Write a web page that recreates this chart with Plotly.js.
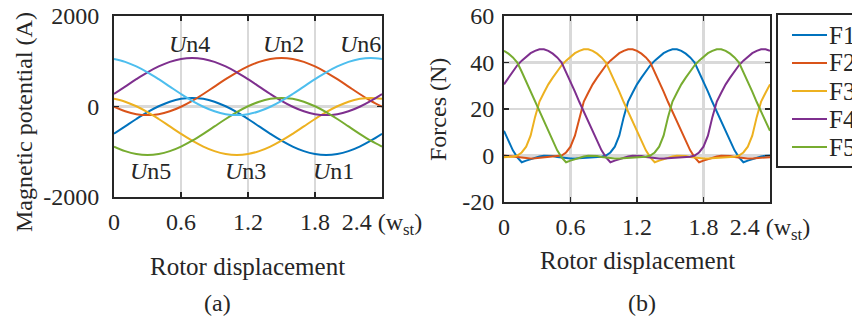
<!DOCTYPE html>
<html>
<head>
<meta charset="utf-8">
<script src="https://cdn.plot.ly/plotly-3.0.1.min.js"></script>
<style>
html,body{margin:0;padding:0;background:#fff;}
#chart{width:852px;height:324px;}
</style>
</head>
<body>
<div id="chart"></div>
<script>
// ---------- Data: (a) magnetic potential ----------
const xPot = [0,0.1,0.2,0.3,0.4,0.5,0.6,0.7,0.8,0.9,1.0,1.1,1.2,1.3,1.4,1.5,1.6,1.7,1.8,1.9,2.0,2.1,2.2,2.3,2.4];
const Un1 = [-603,-440,-277,-125,5,106,169,190,169,106,5,-125,-277,-440,-603,-755,-885,-986,-1049,-1070,-1049,-986,-885,-755,-603];
const Un2 = [-5,-106,-169,-190,-169,-106,-5,125,277,440,603,755,885,986,1049,1070,1049,986,885,755,603,440,277,125,-5];
const Un3 = [169,106,5,-125,-277,-440,-603,-755,-885,-986,-1049,-1070,-1049,-986,-885,-755,-603,-440,-277,-125,5,106,169,190,169];
const Un4 = [277,440,603,755,885,986,1049,1070,1049,986,885,755,603,440,277,125,-5,-106,-169,-190,-169,-106,-5,125,277];
const Un5 = [-885,-986,-1049,-1070,-1049,-986,-885,-755,-603,-440,-277,-125,5,106,169,190,169,106,5,-125,-277,-440,-603,-755,-885];
const Un6 = [1049,986,885,755,603,440,277,125,-5,-106,-169,-190,-169,-106,-5,125,277,440,603,755,885,986,1049,1070,1049];

// ---------- Data: (b) forces ----------
const xF = [0,0.04,0.08,0.12,0.16,0.2,0.24,0.28,0.32,0.36,0.4,0.44,0.48,0.52,0.56,0.6,0.64,0.68,0.72,0.76,
  0.8,0.84,0.88,0.92,0.96,1.0,1.04,1.08,1.12,1.16,1.2,1.24,1.28,1.32,1.36,1.4,1.44,1.48,1.52,1.56,
  1.6,1.64,1.68,1.72,1.76,1.8,1.84,1.88,1.92,1.96,2.0,2.04,2.08,2.12,2.16,2.2,2.24,2.28,2.32,2.36,2.4];
const F1 = [10.6,6.4,2.2,-0.8,
  -2.9,-2.2,-1.5,-0.9,-0.4,-0.1,0.0,-0.2,-0.6,-0.9,
  -1.1,-1.3,-1.3,-1.2,-1.0,-0.8,-0.7,-0.6,-0.5,0.0,
  1.3,3.8,8.5,16.5,23.2,27.0,30.6,33.5,36.2,38.8,
  40.8,42.6,44.0,45.0,45.7,45.7,45.0,43.8,42.2,40.0,
  36.0,31.8,27.5,23.0,18.8,14.6,10.6,6.4,2.2,-0.8,
  -2.9,-2.2,-1.5,-0.9,-0.4,-0.1,0.0];
const F2 = [0.0,-0.2,-0.6,-0.9,
  -1.1,-1.3,-1.3,-1.2,-1.0,-0.8,-0.7,-0.6,-0.5,0.0,
  1.3,3.8,8.5,16.5,23.2,27.0,30.6,33.5,36.2,38.8,
  40.8,42.6,44.0,45.0,45.7,45.7,45.0,43.8,42.2,40.0,
  36.0,31.8,27.5,23.0,18.8,14.6,10.6,6.4,2.2,-0.8,
  -2.9,-2.2,-1.5,-0.9,-0.4,-0.1,0.0,-0.2,-0.6,-0.9,
  -1.1,-1.3,-1.3,-1.2,-1.0,-0.8,-0.7];
const F3 = [-0.7,-0.6,-0.5,0.0,
  1.3,3.8,8.5,16.5,23.2,27.0,30.6,33.5,36.2,38.8,
  40.8,42.6,44.0,45.0,45.7,45.7,45.0,43.8,42.2,40.0,
  36.0,31.8,27.5,23.0,18.8,14.6,10.6,6.4,2.2,-0.8,
  -2.9,-2.2,-1.5,-0.9,-0.4,-0.1,0.0,-0.2,-0.6,-0.9,
  -1.1,-1.3,-1.3,-1.2,-1.0,-0.8,-0.7,-0.6,-0.5,0.0,
  1.3,3.8,8.5,16.5,23.2,27.0,30.6];
const F4 = [30.6,33.5,36.2,38.8,
  40.8,42.6,44.0,45.0,45.7,45.7,45.0,43.8,42.2,40.0,
  36.0,31.8,27.5,23.0,18.8,14.6,10.6,6.4,2.2,-0.8,
  -2.9,-2.2,-1.5,-0.9,-0.4,-0.1,0.0,-0.2,-0.6,-0.9,
  -1.1,-1.3,-1.3,-1.2,-1.0,-0.8,-0.7,-0.6,-0.5,0.0,
  1.3,3.8,8.5,16.5,23.2,27.0,30.6,33.5,36.2,38.8,
  40.8,42.6,44.0,45.0,45.7,45.7,45.0];
const F5 = [45.0,43.8,42.2,40.0,
  36.0,31.8,27.5,23.0,18.8,14.6,10.6,6.4,2.2,-0.8,
  -2.9,-2.2,-1.5,-0.9,-0.4,-0.1,0.0,-0.2,-0.6,-0.9,
  -1.1,-1.3,-1.3,-1.2,-1.0,-0.8,-0.7,-0.6,-0.5,0.0,
  1.3,3.8,8.5,16.5,23.2,27.0,30.6,33.5,36.2,38.8,
  40.8,42.6,44.0,45.0,45.7,45.7,45.0,43.8,42.2,40.0,
  36.0,31.8,27.5,23.0,18.8,14.6,10.6];

// ---------- Tick labels / names ----------
const xTickVals = [0,0.6,1.2,1.8,2.4];
const xTickText = ['0','0.6','1.2','1.8','2.4 (w<sub>st</sub>)'];
const yPotTickVals = [-2000,0,2000];
const yPotTickText = ['-2000','0','2000'];
const yFTickVals = [-20,0,20,40,60];
const yFTickText = ['-20','0','20','40','60'];
const potNames = ['<i>U</i>n1','<i>U</i>n2','<i>U</i>n3','<i>U</i>n4','<i>U</i>n5','<i>U</i>n6'];
const forceNames = ['F1','F2','F3','F4','F5'];

// ---------- Styling ----------
const FONT = "'Liberation Serif', 'Times New Roman', serif";
const INK = '#262626';
const C = ['#0072BD','#D95319','#EDB120','#7E2F8E','#77AC30','#4DBEEE'];
const W = 852, H = 324;
const px = v => v / W;
const py = v => 1 - v / H;
const tf = (s) => ({family:FONT, size:s||24, color:INK});

const traces = [];
[Un1,Un2,Un3,Un4,Un5,Un6].forEach((ys,i) => {
  traces.push({x:xPot, y:ys, type:'scatter', mode:'lines', xaxis:'x', yaxis:'y', name:potNames[i],
    line:{color:C[i], width:2, shape:'spline', smoothing:1}, showlegend:false, hoverinfo:'skip'});
});
[F1,F2,F3,F4,F5].forEach((ys,i) => {
  traces.push({x:xF, y:ys, type:'scatter', mode:'lines', xaxis:'x2', yaxis:'y2', name:forceNames[i],
    line:{color:C[i], width:2}, showlegend:false, hoverinfo:'skip'});
});

const axisBase = {
  showline:true, linecolor:INK, linewidth:2, mirror:'ticks',
  ticks:'inside', ticklen:5, tickwidth:1.5, tickcolor:INK,
  showgrid:true, gridcolor:'#d9d9d9', gridwidth:2.5, zeroline:false,
  tickfont:tf(24), fixedrange:true
};

// Legend box for panel (b), drawn from the force series names/colours
const legendLeft = 777, legendTop = 14, legendBottom = 167, legendRowTop = 35, legendRowStep = 28;
const shapes = [{type:'rect', xref:'paper', yref:'paper', x0:px(legendLeft), x1:px(900), y0:py(legendBottom), y1:py(legendTop),
  line:{color:INK, width:2}, fillcolor:'#fff', layer:'above'}];
const legendAnn = [];
forceNames.forEach((nm,i) => {
  const yy = legendRowTop + i*legendRowStep;
  shapes.push({type:'line', xref:'paper', yref:'paper', x0:px(792), x1:px(827), y0:py(yy), y1:py(yy),
    line:{color:C[i], width:2}, layer:'above'});
  legendAnn.push({text:nm, x:px(827), y:py(yy), xref:'paper', yref:'paper', xanchor:'left', yanchor:'middle',
    showarrow:false, font:tf(25)});
});

const ann = (text, x, y, xref, yref, extra) => Object.assign({text, x, y, xref, yref, xanchor:'center', yanchor:'middle',
  showarrow:false, font:tf(24)}, extra||{});

const layout = {
  width:W, height:H,
  margin:{l:0, r:0, t:0, b:0, autoexpand:false},
  paper_bgcolor:'#fff', plot_bgcolor:'#fff',
  font:tf(24),
  showlegend:false,
  xaxis: Object.assign({}, axisBase, {domain:[px(114), px(382)], range:[0,2.4],
    tickmode:'array', tickvals:xTickVals, ticktext:xTickText, anchor:'y', ticklabelstandoff:2}),
  yaxis: Object.assign({}, axisBase, {domain:[py(197), py(16)], range:[-2000,2000],
    tickmode:'array', tickvals:yPotTickVals, ticktext:yPotTickText, anchor:'x', ticklabelstandoff:8}),
  xaxis2: Object.assign({}, axisBase, {domain:[px(504), px(770)], range:[0,2.4],
    tickmode:'array', tickvals:xTickVals, ticktext:xTickText, anchor:'y2', ticklabelstandoff:2}),
  yaxis2: Object.assign({}, axisBase, {domain:[py(202), py(16)], range:[-20,60],
    tickmode:'array', tickvals:yFTickVals, ticktext:yFTickText, anchor:'x2', ticklabelstandoff:3}),
  shapes: shapes,
  annotations:[
    ann(potNames[3], 0.672, 1392, 'x', 'y'),
    ann(potNames[1], 1.522, 1392, 'x', 'y'),
    ann(potNames[5], 2.203, 1392, 'x', 'y'),
    ann(potNames[4], 0.331, -1436, 'x', 'y'),
    ann(potNames[2], 1.182, -1436, 'x', 'y'),
    ann(potNames[0], 1.970, -1436, 'x', 'y'),
    ann('Rotor displacement', px(248), py(266), 'paper', 'paper', {font:tf(25)}),
    ann('Rotor displacement', px(637), py(260), 'paper', 'paper', {font:tf(25)}),
    ann('Magnetic potential (A)', px(24), py(122), 'paper', 'paper', {textangle:-90}),
    ann('Forces (N)', px(438), py(110), 'paper', 'paper', {textangle:-90}),
    ann('(a)', px(218), py(303), 'paper', 'paper'),
    ann('(b)', px(642), py(303), 'paper', 'paper')
  ].concat(legendAnn)
};

Plotly.newPlot('chart', traces, layout, {staticPlot:true, displayModeBar:false});
</script>
</body>
</html>
